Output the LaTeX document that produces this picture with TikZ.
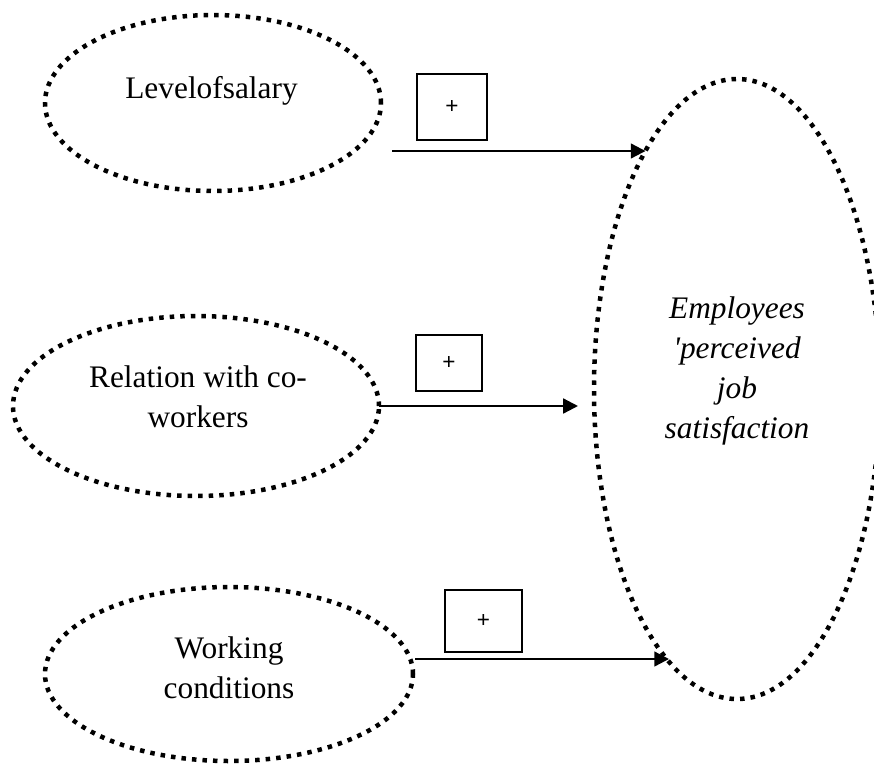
\documentclass[tikz,border=0pt]{standalone}
\usepackage{fontspec}
\setmainfont{Liberation Serif}
\setsansfont{Liberation Sans}
\usetikzlibrary{arrows.meta,calc,positioning,shapes.geometric}
\newcommand{\capfont}{\fontsize{22.3}{28.5}\selectfont}
\tikzset{
 model/.style={line cap=butt,line join=miter},
 construct/.style={ellipse,draw,line width=3.2pt,dash pattern=on 3.2pt off 4.3pt,inner sep=0pt,outer sep=0pt},
 caption/.style={font=\capfont,align=center,inner sep=0pt},
 captionIt/.style={caption,font=\capfont\itshape},
 signbox/.style={rectangle,draw,line width=1.1pt,inner sep=0pt,font=\sffamily\fontsize{16}{18}\selectfont},
 effect/.style={draw,line width=1.6pt,-{Triangle[length=10.5pt,width=10.5pt]}}
}

\begin{document}
\begin{tikzpicture}[model,x=.25mm,y=-.25mm]
 \useasboundingbox (0,0) rectangle (874,763);
 \node[construct,minimum width=8.4cm,minimum height=4.4cm] (salary) at (213,103) {};
 \node[construct,minimum width=9.15cm,minimum height=4.5cm] (coworkers) at (196,406) {};
 \node[construct,minimum width=9.2cm,minimum height=4.35cm] (conditions) at (229,674) {};
 \node[construct,minimum width=7.15cm,minimum height=15.5cm] (js) at (737,389) {};
 \node[caption,anchor=base] (salaryTxt) at (211.5,98) {Levelofsalary};
 \node[caption] (coworkersTxt) at (198,397) {Relation with co-\\workers};
 \node[caption] (conditionsTxt) at (229,668) {Working\\conditions};
 \node[captionIt] (jsTxt) at (737,371) {Employees\\\textquotesingle perceived\\job\\satisfaction};
 \node[signbox,minimum width=1.75cm,minimum height=1.65cm] (sign1) at (452,107) {+};
 \node[signbox,minimum width=1.65cm,minimum height=1.4cm] (sign2) at (449,363) {+};
 \node[signbox,minimum width=1.925cm,minimum height=1.55cm] (sign3) at (483.5,621) {+};
 \coordinate (salaryOut) at (392,151);
 \coordinate (coworkersIn) at (578,407);
 \coordinate (conditionsOut) at (415,659);
 \draw[effect] (salaryOut) -- (salaryOut -| js.111);
 \draw[effect] (coworkers.east) -- (coworkers.east -| coworkersIn);
 \draw[effect] (conditionsOut) -- (conditionsOut -| js.256);
\end{tikzpicture}
\end{document}
